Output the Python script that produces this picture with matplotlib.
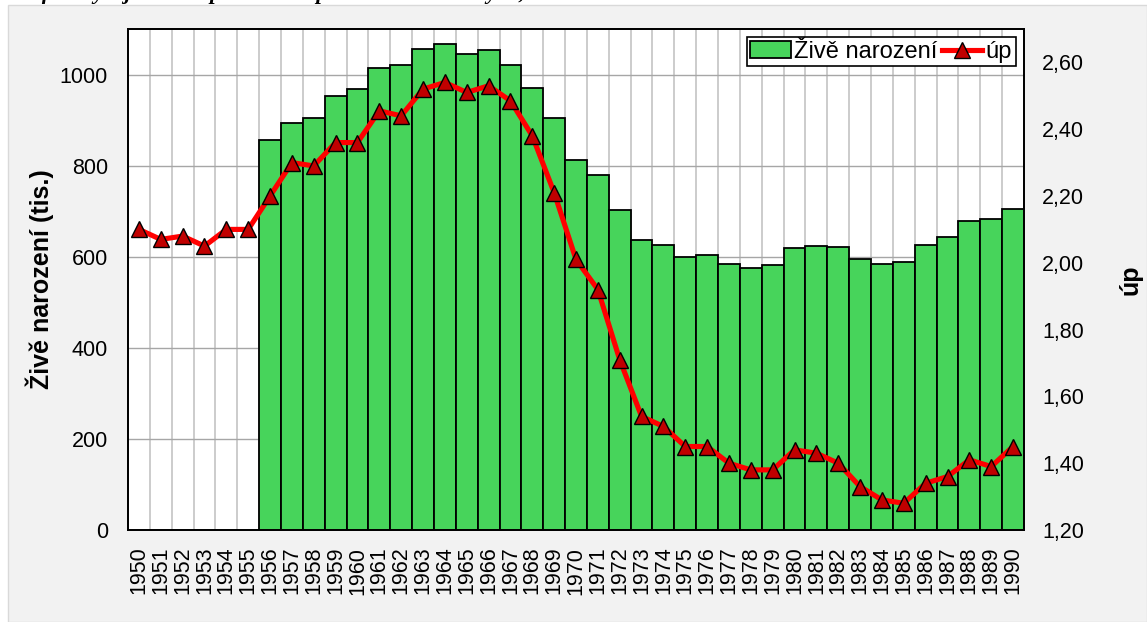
import numpy as np
import matplotlib.pyplot as plt
from matplotlib.patches import Rectangle

plt.rcParams['font.family'] = ['Liberation Sans', 'DejaVu Sans']

years = list(range(1950, 1991))

# zive narozeni (tis.), no data before 1956
births = [None, None, None, None, None, None,
          856, 893, 905, 953, 968, 1014, 1021, 1056, 1067, 1045,
          1054, 1021, 970, 905, 812, 779, 703, 636, 626, 600,
          604, 583, 576, 581, 620, 623, 622, 594, 585, 588,
          626, 643, 678, 682, 705]

# uhrnna plodnost
up = [2.10, 2.07, 2.08, 2.05, 2.10, 2.10,
      2.20, 2.30, 2.29, 2.36, 2.36, 2.455, 2.44, 2.52, 2.54, 2.51,
      2.53, 2.485, 2.38, 2.21, 2.01, 1.92, 1.71, 1.54, 1.51, 1.45,
      1.45, 1.40, 1.38, 1.38, 1.44, 1.43, 1.40, 1.33, 1.29, 1.28,
      1.34, 1.36, 1.41, 1.39, 1.45]

left_ticks = [0, 200, 400, 600, 800, 1000]
right_ticks = [1.2, 1.4, 1.6, 1.8, 2.0, 2.2, 2.4, 2.6]

x = np.arange(len(years))
b = np.array([np.nan if v is None else v for v in births], dtype=float)
has = ~np.isnan(b)

fig = plt.figure(figsize=(11.47, 6.22), dpi=100)
fig.patch.set_facecolor('white')
fig.patches.append(Rectangle((8/1147, 0), 1 - 8/1147, 1 - 5/622, transform=fig.transFigure,
                             facecolor='#f2f2f2', edgecolor='#d9d9d9', lw=1, zorder=-10))
# title of the source page, mostly cut off at the top edge
fig.text(0.005, 1.0 + 1/622, 'Graf 1: Vývoj úhrnné plodnosti a počtu živě narozených, 1950–1990',
         family='Liberation Serif', fontsize=16, fontweight='bold', style='italic',
         va='baseline', ha='left')

ax = fig.add_axes([128/1147, 1 - 530/622, 896/1147, 501/622])
ax.set_facecolor('white')
ax.bar(x[has], b[has], width=1.0, color='#47d45b', edgecolor='black', linewidth=1.3,
       label='Živě narození', zorder=2)
ax.set_xlim(-0.5, len(years) - 0.5)
ax.set_ylim(0, 1100)
ax.set_yticks(left_ticks)
ax.set_xticks(x)
ax.set_xticklabels([str(y) for y in years], rotation=90)
ax.set_xticks(x[:-1] + 0.5, minor=True)
ax.grid(True, axis='y', which='major', color='#a6a6a6', lw=1, zorder=0)
ax.grid(True, axis='x', which='minor', color='#c8c8c8', lw=1.3, zorder=0)
ax.tick_params(axis='both', which='both', length=0, labelsize=15.5)
ax.tick_params(axis='y', pad=14.5)
ax.tick_params(axis='x', pad=12)
ax.set_axisbelow(True)
for s in ax.spines.values():
    s.set_linewidth(1.3)
ax.set_ylabel('Živě narození (tis.)', fontsize=18, fontweight='bold', labelpad=4)

ax2 = ax.twinx()
ax2.plot(x, up, color='#ff0000', lw=3.7, marker='^', markersize=11,
         markerfacecolor='#c00000', markeredgecolor='black', markeredgewidth=1,
         label='úp', zorder=3)
ax2.set_ylim(1.2, 2.7)
ax2.set_yticks(right_ticks)
ax2.set_yticklabels([('%.2f' % t).replace('.', ',') for t in right_ticks])
ax2.tick_params(axis='y', length=0, labelsize=15.5, pad=13)
ax2.set_ylabel('úp', fontsize=18, fontweight='bold', labelpad=25)
for s in ax2.spines.values():
    s.set_linewidth(1.3)

h1, l1 = ax.get_legend_handles_labels()
h2, l2 = ax2.get_legend_handles_labels()
leg = ax2.legend(h1 + h2, l1 + l2, loc='upper right', ncol=2, fontsize=17,
                 fancybox=False, framealpha=1, edgecolor='black',
                 handlelength=1.7, handletextpad=0.15, columnspacing=0.2,
                 borderpad=0.15, borderaxespad=0.35)
leg.get_frame().set_linewidth(1.2)

fig.savefig('out.png', dpi=100)
